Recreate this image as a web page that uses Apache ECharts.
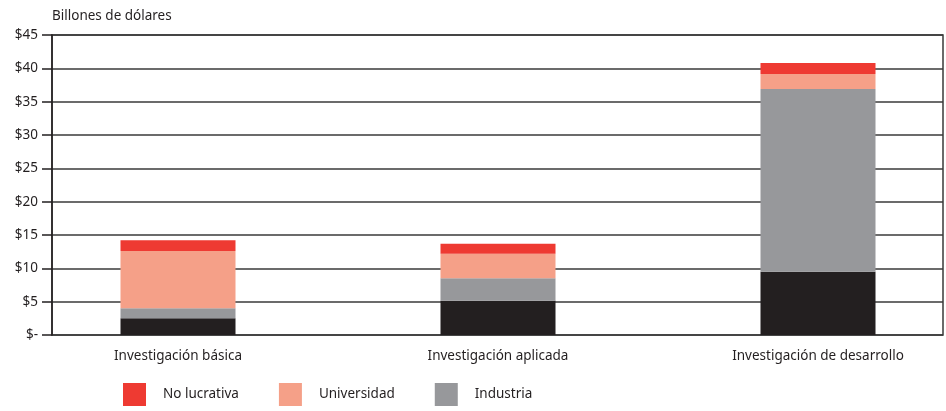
<!DOCTYPE html>
<html>
<head>
<meta charset="utf-8">
<script src="https://cdn.jsdelivr.net/npm/echarts@6/dist/echarts.min.js"></script>
<style>
  html, body { margin: 0; padding: 0; background: #fff; }
  #chart { width: 946px; height: 411px; }
</style>
</head>
<body>
<div id="chart"></div>
<script>
  // categorias
  var categories = ['Investigación básica', 'Investigación aplicada', 'Investigación de desarrollo'];
  // valores (billones de dolares), de abajo hacia arriba
  var gobierno = [2.5, 5.15, 9.5];
  var industria = [1.5, 3.35, 27.4];
  var universidad = [8.6, 3.7, 2.25];
  var noLucrativa = [1.6, 1.5, 1.65];
  var yTickLabels = ['$-', '$5', '$10', '$15', '$20', '$25', '$30', '$35', '$40', '$45'];

  var font = 'Noto Sans';
  var chart = echarts.init(document.getElementById('chart'));

  function barSerie(name, data, color) {
    return {
      name: name,
      type: 'bar',
      stack: 'total',
      xAxisIndex: 1,
      yAxisIndex: 1,
      barWidth: 115,
      data: data,
      itemStyle: { color: color },
      emphasis: { disabled: true }
    };
  }

  chart.setOption({
    animation: false,
    textStyle: { fontFamily: font },
    title: {
      text: 'Billones de dólares',
      left: 47,
      top: 4,
      textStyle: { fontFamily: font, fontSize: 13.5, fontWeight: 'normal', color: '#231f20' }
    },
    legend: {
      data: ['No lucrativa', 'Universidad', 'Industria'],
      left: 118,
      top: 378,
      itemWidth: 23,
      itemHeight: 23,
      itemGap: 40,
      icon: 'rect',
      selectedMode: false,
      textStyle: { fontFamily: font, fontSize: 13.5, color: '#231f20', padding: [0, 0, 0, 12] }
    },
    grid: [
      { left: 52, right: 3, top: 35, bottom: 76, show: true, borderColor: '#3a3a3a', borderWidth: 1.5, outerBoundsMode: 'none' },
      { left: 18, top: 35, bottom: 76, width: 960, outerBoundsMode: 'none' }
    ],
    xAxis: [
      { type: 'value', gridIndex: 0, min: 0, max: 1, show: false },
      {
        type: 'category',
        gridIndex: 1,
        data: categories,
        axisLine: { show: false },
        axisTick: { show: false },
        axisLabel: { fontFamily: font, fontSize: 13.5, color: '#231f20', margin: 14 }
      }
    ],
    yAxis: [
      {
        type: 'value',
        gridIndex: 0,
        min: 0,
        max: 45,
        interval: 5,
        axisLine: { show: true, lineStyle: { color: '#231f20', width: 1.5 } },
        axisTick: { show: true, inside: false, length: 10, lineStyle: { color: '#231f20', width: 1.5 } },
        splitLine: { show: true, lineStyle: { color: '#3a3a3a', width: 1.5 } },
        axisLabel: {
          fontFamily: font,
          fontSize: 13.5,
          color: '#231f20',
          margin: 14,
          formatter: function (v) { return yTickLabels[Math.round(v / 5)]; }
        }
      },
      { type: 'value', gridIndex: 1, min: 0, max: 45, show: false }
    ],
    series: [
      barSerie('Gobierno federal', gobierno, '#231f20'),
      barSerie('Industria', industria, '#97989b'),
      barSerie('Universidad', universidad, '#f5a088'),
      barSerie('No lucrativa', noLucrativa, '#ee3a32')
    ]
  });
</script>
</body>
</html>
